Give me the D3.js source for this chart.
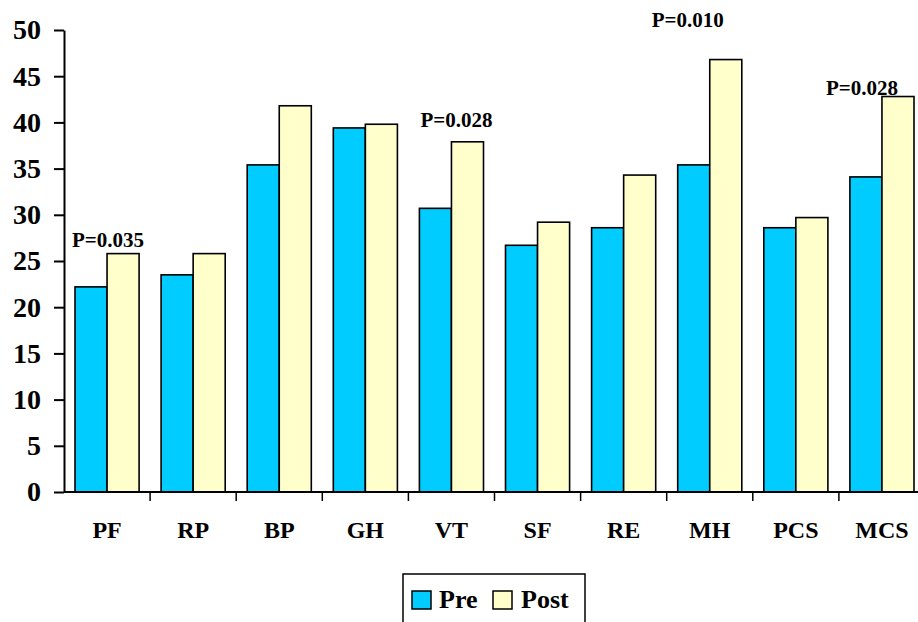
<!DOCTYPE html>
<html><head><meta charset="utf-8">
<script src="https://cdn.jsdelivr.net/npm/d3@7"></script>
<style>body{margin:0;background:#fff;} svg{display:block;} text{font-family:"Liberation Serif","Times New Roman",serif;font-weight:bold;}</style>
</head><body>
<svg id="c" width="918" height="622"></svg>
<script>
const categories = ["PF","RP","BP","GH","VT","SF","RE","MH","PCS","MCS"];
const seriesNames = ["Pre","Post"];
const preValues  = [22.2, 23.5, 35.4, 39.4, 30.7, 26.7, 28.6, 35.4, 28.6, 34.1];
const postValues = [25.8, 25.8, 41.8, 39.8, 37.9, 29.2, 34.3, 46.8, 29.7, 42.8];
const yTicks = [0,5,10,15,20,25,30,35,40,45,50];
const annCategories = ["PF","VT","MH","MCS"];
const annTexts = ["P=0.035","P=0.028","P=0.010","P=0.028"];
const colors = {Pre:"#00CCFF", Post:"#FFFFCC"};

// layout offsets for annotation labels (pixels: dx from band centre, dy above Post bar top)
const annLayout = {PF:{dx:1,dy:7}, VT:{dx:5,dy:15}, MH:{dx:-22,dy:33}, MCS:{dx:-20,dy:2}};

const svg = d3.select("#c");
const x0 = d3.scaleBand().domain(categories).range([64, 925]);
const x1 = d3.scaleBand().domain(seriesNames).range([11, x0.bandwidth()-11]);
const y = d3.scaleLinear().domain([0,50]).range([492, 30]);

// bars
const g = svg.append("g");
categories.forEach((c,i)=>{
  const vals = {Pre:preValues[i], Post:postValues[i]};
  seriesNames.forEach(s=>{
    g.append("rect")
      .attr("x", x0(c)+x1(s))
      .attr("y", y(vals[s]))
      .attr("width", x1.bandwidth())
      .attr("height", y(0)-y(vals[s]))
      .attr("fill", colors[s])
      .attr("stroke","#000").attr("stroke-width",1.6);
  });
});

// y axis
const yAxis = svg.append("g").attr("transform","translate(64,0)")
  .call(d3.axisLeft(y).tickValues(yTicks).tickSize(10).tickSizeOuter(0).tickPadding(13));
yAxis.selectAll("path,line").attr("stroke","#000").attr("stroke-width",2);
yAxis.selectAll("text").attr("font-size",28).attr("fill","#000")
  .style("font-family","'Liberation Serif',serif").style("font-weight","bold");

// x axis
const xg = svg.append("g");
xg.append("line").attr("x1",64).attr("x2",925).attr("y1",y(0)).attr("y2",y(0))
  .attr("stroke","#000").attr("stroke-width",2);
xg.selectAll("line.tk").data(categories.slice(1)).enter().append("line")
  .attr("x1",d=>x0(d)).attr("x2",d=>x0(d)).attr("y1",y(0)).attr("y2",y(0)+9)
  .attr("stroke","#000").attr("stroke-width",1.5);
xg.selectAll("text").data(categories).enter().append("text")
  .attr("x",d=>x0(d)+x0.bandwidth()/2).attr("y",538)
  .attr("text-anchor","middle").attr("font-size",24).text(d=>d);

// annotations
annCategories.forEach((c,i)=>{
  const v = postValues[categories.indexOf(c)];
  const L = annLayout[c];
  svg.append("text")
    .attr("x", x0(c)+x0.bandwidth()/2 + L.dx)
    .attr("y", y(v) - L.dy)
    .attr("text-anchor","middle").attr("font-size",21).text(annTexts[i]);
});

// legend
const lg = svg.append("g");
lg.append("rect").attr("x",403).attr("y",574).attr("width",182).attr("height",60)
  .attr("fill","#fff").attr("stroke","#000").attr("stroke-width",1.5);
const items = [{s:"Pre",x:412,tx:439},{s:"Post",x:493,tx:521}];
items.forEach(it=>{
  lg.append("rect").attr("x",it.x).attr("y",591).attr("width",19).attr("height",18)
    .attr("fill",colors[it.s]).attr("stroke","#000").attr("stroke-width",1.5);
  lg.append("text").attr("x",it.tx).attr("y",608).attr("font-size",26).text(it.s);
});
</script>
</body></html>
